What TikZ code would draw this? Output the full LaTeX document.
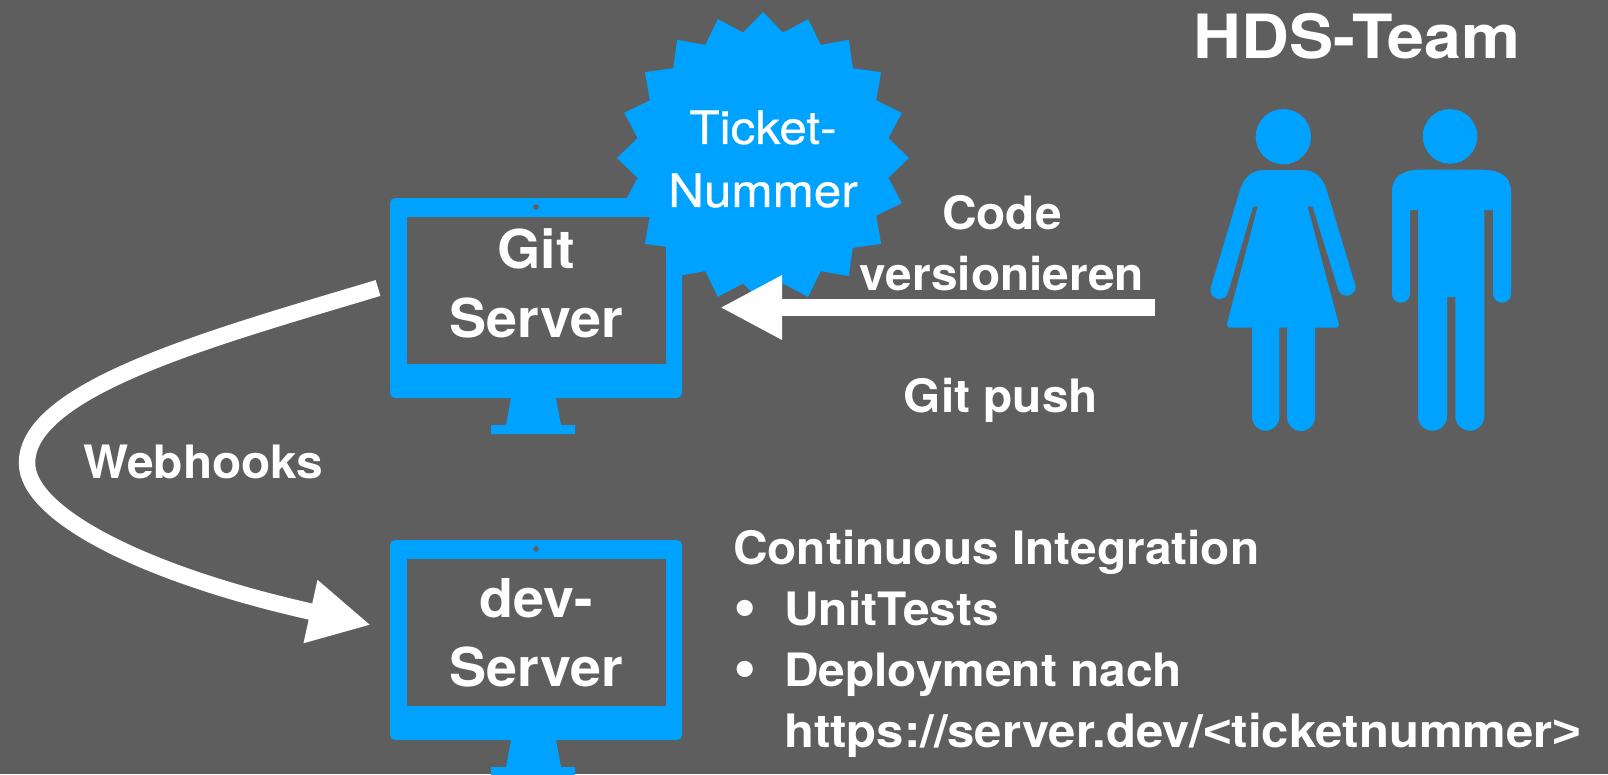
\documentclass[tikz,border=0pt]{standalone}
\usepackage{fontspec}
\setmainfont[FakeStretch=1.04]{TeX Gyre Heros}
\newfontfamily\ltfont[FakeStretch=1.066]{Liberation Sans}
\newfontfamily\bulfont{DejaVu Sans}
\usetikzlibrary{arrows.meta}
\definecolor{bgc}{HTML}{5E5E5E}
\definecolor{bluec}{HTML}{00A2FF}
\tikzset{
  x=1pt,y=-1pt,
  label/.style={text=white,inner sep=0pt,font=\fontsize{46}{61}\selectfont\bfseries,align=center},
  scr/.style={text=white,inner sep=0pt,font=\fontsize{53.5}{69}\selectfont\bfseries,align=center},
  thin label/.style={text=white,inner sep=0pt,font=\fontsize{46}{63}\selectfont\addfontfeature{FakeStretch=1.075,FakeBold=0.6},align=center},
  flow/.style={draw=white,line width=16.5pt,line cap=butt,-{Triangle[length=62pt,width=60pt]}},
}
\newcommand{\monitor}[1]{%
  \begin{scope}[yshift=#1]
    \fill[bluec] (390,203) arc (180:270:5) -- (677,198) arc (270:360:5) -- (682,393) arc (0:90:5) -- (556,398) -- (561,425) -- (575,425) -- (575,434) -- (491,434) -- (491,425) -- (506,425) -- (511,398) -- (395,398) arc (90:180:5) -- cycle;
    \fill[bgc] (407,217) rectangle (666,364);
    \fill[bgc] (536,207) circle (2.8);
  \end{scope}}
\newcommand{\bul}{\makebox[51pt][l]{\hspace{-3pt}{\bulfont •}}}
\begin{document}
\begin{tikzpicture}
\useasboundingbox[fill=bgc] (0,0) rectangle (1608,774);
\monitor{0pt}
\monitor{-342pt}
% star
\fill[bluec] plot[samples at={0,1,...,39}] ({763+(mod(\x,2)==0?146:127)*sin(\x*9)},{158-(mod(\x,2)==0?146:127)*cos(\x*9)}) -- cycle;
% woman
\begin{scope}[shift={(1160,90)},scale=1/3]
  \fill[bluec] (370,140) circle (83);
  \fill[bluec] (310,240) -- (430,240) .. controls (465,240) and (490,265) .. (500,300) -- (587,590) arc (0:170:27) -- (458,350) -- (443,350) -- (537,705) -- (530,713) -- (465,713) -- (465,981) arc (0:180:42) -- (381,713) -- (358,713) -- (358,981) arc (0:180:41) -- (276,713) -- (207,713) -- (200,705) -- (293,350) -- (279,350) -- (205,605) arc (10:180:27) -- (153,590) -- (240,300) .. controls (250,265) and (275,240) .. (310,240) -- cycle;
\end{scope}
% man
\fill[bluec] (1450,136.4) circle (27.3);
\fill[bluec] (1418,169.7) -- (1484,169.7) .. controls (1500,170.5) and (1511,176) .. (1511,192) -- (1511,293.7) arc (0:180:9) -- (1493,210) -- (1484.3,210) -- (1484.3,416.2) arc (0:180:14.5) -- (1455.3,297) -- (1447,297) -- (1447,416.2) arc (0:180:14.5) -- (1418,210) -- (1410,210) -- (1410,293.7) arc (0:180:9) -- (1392,192) .. controls (1392,176) and (1403,170.5) .. (1418,169.7) -- cycle;
% connectors
\coordinate (pushstart) at (1155,307.5);
\coordinate (pushend) at (720,307.5);
\coordinate (hookstart) at (378,288);
\coordinate (hookbend) at (27,463);
\coordinate (hookend) at (371,625);
\draw[flow] (hookstart) .. controls (215,337) and (27,388) .. (hookbend) .. controls (27,515) and (146,575) .. (hookend);
\draw[flow] (pushstart) -- (pushend);
% texts
\node[text=white,inner sep=0pt,font=\fontsize{61}{61}\selectfont\bfseries\addfontfeature{FakeStretch=1.086},anchor=base] (team) at (1357,58.5) {HDS-Team};
\node[thin label] (ticket) at (763,159) {Ticket-\\Nummer};
\node[scr] (git) at (536,283) {Git\\Server};
\node[scr] (dev) at (536,633) {dev-\\Server};
\node[label] (code) at (1002,243) {Code\\versionieren};
\node[label,anchor=base] (push) at (1001,412) {Git push};
\node[label,anchor=base west] (hooks) at (83,478) {Webhooks};
\node[label,align=left,anchor=north west] (ci) at (733,530) {Continuous Integration\\
\bul UnitTests\\
\bul Deployment nach\\
\hspace{51pt}{\addfontfeature{FakeStretch=1.066}https://server.dev/{\ltfont\bfseries<}ticketnummer{\ltfont\bfseries>}}};
\end{tikzpicture}
\end{document}
